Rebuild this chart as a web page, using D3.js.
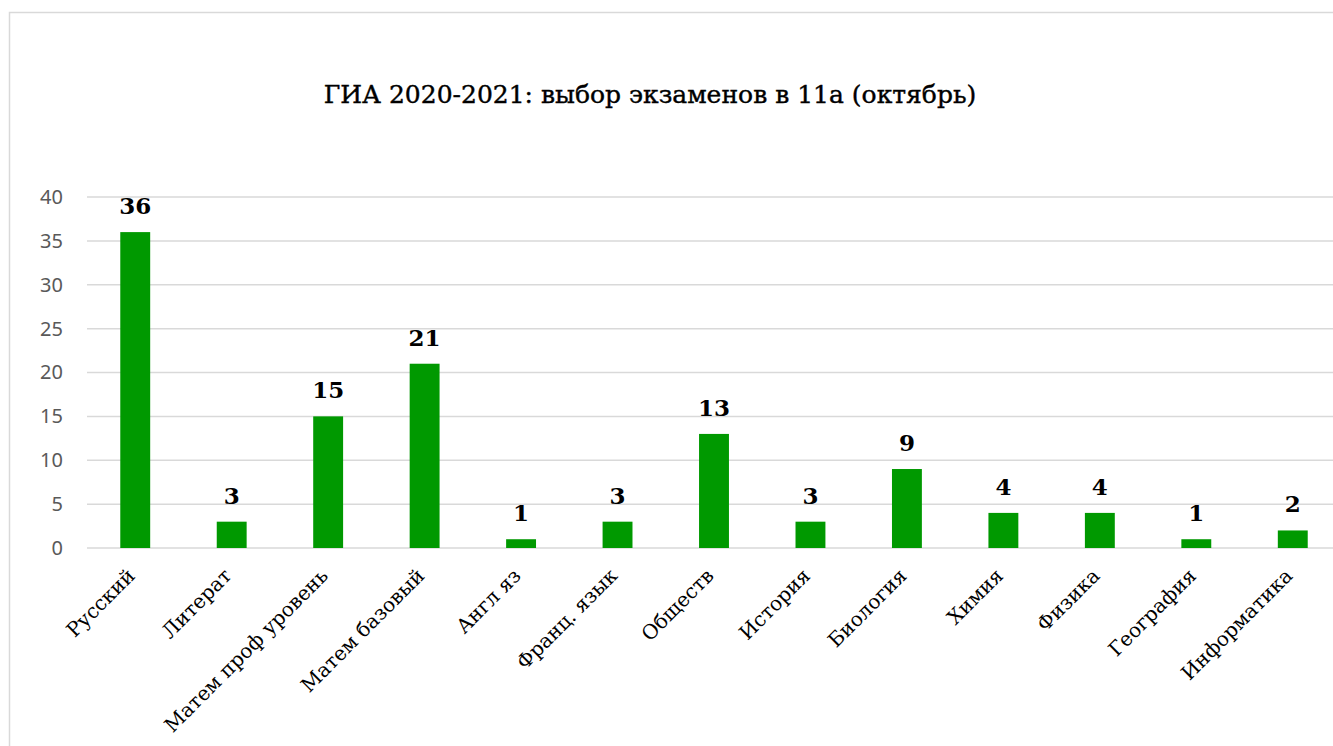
<!DOCTYPE html>
<html>
<head>
<meta charset="utf-8">
<script src="https://cdn.jsdelivr.net/npm/d3@7"></script>
<style>
  html, body { margin: 0; padding: 0; background: #fff; overflow: hidden; }
</style>
</head>
<body>
<div id="chart"></div>
<script>
// data
const subjects = ['Русский', 'Литерат', 'Матем проф уровень', 'Матем базовый', 'Англ яз',
    'Франц. язык', 'Обществ', 'История', 'Биология', 'Химия', 'Физика', 'География', 'Информатика'];
const counts = [36, 3, 15, 21, 1, 3, 13, 3, 9, 4, 4, 1, 2];
const yTicks = [0, 5, 10, 15, 20, 25, 30, 35, 40];
const chartTitle = 'ГИА 2020-2021: выбор экзаменов в 11а (октябрь)';

const W = 1333, H = 746;
const margin = { top: 197, right: -8, bottom: 198, left: 87 };
const width = W - margin.left - margin.right;
const height = H - margin.top - margin.bottom;

const root = d3.select('#chart')
    .append('svg')
    .attr('width', W)
    .attr('height', H);

// chart area frame
root.append('rect')
    .attr('x', 9.5).attr('y', 12.5)
    .attr('width', W).attr('height', H)
    .attr('fill', '#fff')
    .attr('stroke', '#d9d9d9')
    .attr('stroke-width', 1.5);

root.append('text')
    .attr('x', 650)
    .attr('y', 103)
    .attr('text-anchor', 'middle')
    .attr('font-family', 'DejaVu Serif')
    .attr('font-size', '25px')
    .attr('fill', '#000')
    .attr('stroke', '#000')
    .attr('stroke-width', 0.4)
    .text(chartTitle);

const svg = root.append('g')
    .attr('transform', `translate(${margin.left},${margin.top})`);

const xScale = d3.scaleBand()
    .domain(subjects)
    .range([0, width])
    .paddingInner(0.69)
    .paddingOuter(0.345);

const yScale = d3.scaleLinear()
    .domain([0, 40])
    .range([height, 0]);

// gridlines
svg.append('g')
    .selectAll('line')
    .data(yTicks)
    .join('line')
    .attr('x1', 0)
    .attr('x2', width)
    .attr('y1', d => yScale(d))
    .attr('y2', d => yScale(d))
    .attr('stroke', '#d9d9d9')
    .attr('stroke-width', 1.5);

// y axis
const yAxis = svg.append('g')
    .call(d3.axisLeft(yScale).tickValues(yTicks).tickSize(0).tickPadding(24));
yAxis.select('.domain').remove();
yAxis.selectAll('text')
    .attr('font-family', 'Noto Sans')
    .attr('font-size', '20px')
    .attr('fill', '#595959');

// x axis
const xAxis = svg.append('g')
    .attr('transform', `translate(0, ${height})`)
    .call(d3.axisBottom(xScale).tickSize(0).tickPadding(0));
xAxis.select('.domain').remove();
xAxis.selectAll('text')
    .attr('font-family', 'DejaVu Serif')
    .attr('font-size', '20px')
    .attr('fill', '#000')
    .attr('text-anchor', 'end')
    .attr('dy', 0)
    .attr('y', 0)
    .attr('transform', 'translate(1, 29) rotate(-45)');

// bars
svg.selectAll('.bar')
    .data(counts)
    .join('rect')
    .attr('class', 'bar')
    .attr('x', (d, i) => xScale(subjects[i]))
    .attr('y', d => yScale(d))
    .attr('width', xScale.bandwidth())
    .attr('height', d => height - yScale(d))
    .attr('fill', '#009900');

// data labels
svg.selectAll('.lbl')
    .data(counts)
    .join('text')
    .attr('class', 'lbl')
    .attr('x', (d, i) => xScale(subjects[i]) + xScale.bandwidth() / 2)
    .attr('y', d => yScale(d) - 18)
    .attr('text-anchor', 'middle')
    .attr('font-family', 'DejaVu Serif')
    .attr('font-weight', 'bold')
    .attr('font-size', '23px')
    .attr('fill', '#000')
    .text(d => d);
</script>
</body>
</html>
